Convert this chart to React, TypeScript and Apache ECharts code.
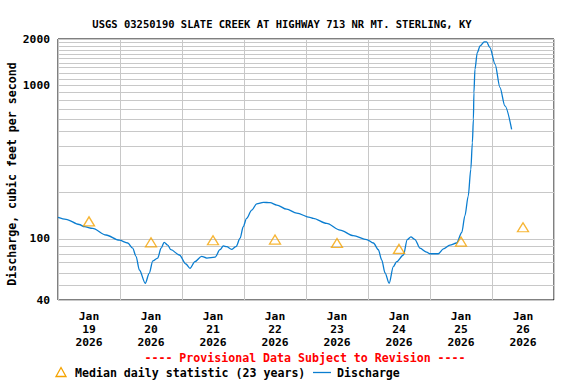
import React, { useEffect, useRef } from "react";
import * as echarts from "echarts";

const TITLE = "USGS 03250190 SLATE CREEK AT HIGHWAY 713 NR MT. STERLING, KY";
const Y_NAME = "Discharge, cubic feet per second";
const PROVISIONAL = "---- Provisional Data Subject to Revision ----";
const MEDIAN_LABEL = "Median daily statistic (23 years)";
const DISCHARGE_LABEL = "Discharge";

// x in hours since Jan 19 2026 00:00
const dayLabels = ["19", "20", "21", "22", "23", "24", "25", "26"];
const monthLabel = "Jan";
const yearLabel = "2026";

const yTickValues = [40, 100, 1000, 2000];
const yGridValues = [
  40, 50, 60, 70, 80, 90, 100, 200, 300, 400, 500, 600, 700, 800, 900, 1000,
  1100, 1200, 1300, 1400, 1500, 1600, 1700, 1800, 1900, 2000,
];

const dischargeHours = [
  0, 3.1, 8.2, 10.2, 13.4, 18.6, 23.7, 27.0, 28.9, 30.2, 31.5, 33.8, 35.3, 36.7,
  38.6, 39.9, 41.1, 42.5, 43.7, 47.0, 49.5, 51.1, 53.0, 55.6, 57.6, 60.8, 62.7,
  64.0, 65.3, 67.2, 68.9, 70.5, 71.7, 73.0, 75.0, 76.9, 79.5, 82.1, 84.7, 88.5,
  92.4, 97.5, 98.8, 104.0, 109.2, 114.3, 119.5, 122.1, 124.0, 125.3, 126.6,
  128.2, 129.8, 131.1, 133.7, 135.2, 136.6, 138.2, 140.1, 142.7, 144.0, 147.2,
  149.2, 151.7, 154.3, 156.3, 157.5, 158.8, 159.8, 160.4, 160.8, 161.0, 161.4,
  162.3, 163.4, 165.0, 165.9, 167.2, 169.2, 171.1, 173.0, 175.6,
];
const dischargeCfs = [
  138, 134, 124, 120, 117, 106, 98, 94, 87, 77, 62.7, 51.4, 59.7, 72, 75, 87, 95,
  91, 85, 78.5, 68.6, 64.3, 71, 77, 75, 76, 85, 90, 89, 85.5, 89, 101, 120, 136,
  154, 169, 173, 172, 166, 156, 147, 138, 136, 126, 114, 105, 99, 94, 85, 73, 60,
  51.4, 66, 71, 78.5, 99, 103, 99, 87, 82, 80, 80, 86, 91, 94, 110, 141, 190, 284,
  423, 600, 895, 1271, 1630, 1802, 1913, 1913, 1757, 1369, 964, 733, 517,
];

const medianHours = [12, 36, 60, 84, 108, 132, 156, 180];
const medianCfs = [130, 95, 98, 99, 94, 86, 96, 119];

const FONT = "'DejaVu Sans Mono', monospace";
const LINE_COLOR = "#0a7dd0";
const MEDIAN_COLOR = "#f5a300";

export default function App() {
  const ref = useRef<HTMLDivElement>(null);

  useEffect(() => {
    if (!ref.current) return;
    document.body.style.margin = "0";
    const chart = echarts.init(ref.current, undefined, { renderer: "svg" });
    const lg = (v: number) => Math.log10(v);
    const yMin = lg(40);
    const yMax = lg(2000);

    const option: any = {
      animation: false,
      backgroundColor: "#ffffff",
      title: {
        text: TITLE,
        left: 277,
        top: 13,
        textAlign: "center",
        textStyle: {
          fontFamily: FONT,
          fontWeight: "bold",
          fontSize: 10.5,
          color: "#000",
        },
      },
      grid: {
        left: 58,
        top: 39,
        right: 22,
        bottom: 84,
        show: true,
        borderColor: "#000",
        borderWidth: 1,
        backgroundColor: "transparent",
      },
      xAxis: {
        type: "value",
        min: 0,
        max: 192,
        axisLine: { show: false },
        axisTick: {
          show: false,
          customValues: [0, 24, 48, 72, 96, 120, 144, 168, 192],
        },
        splitLine: { show: true, lineStyle: { color: "#c8c8c8", width: 1 } },
        axisLabel: {
          customValues: medianHours,
          margin: 10,
          fontFamily: FONT,
          fontWeight: "bold",
          fontSize: 11.3,
          color: "#000",
          lineHeight: 13,
          formatter: (v: number) => {
            const i = Math.floor(v / 24);
            return `${monthLabel}\n${dayLabels[i]}\n${yearLabel}`;
          },
        },
      },
      yAxis: {
        type: "value",
        min: yMin,
        max: yMax,
        axisLine: { show: false },
        axisTick: { show: false, customValues: yGridValues.map(lg) },
        splitLine: { show: true, lineStyle: { color: "#c8c8c8", width: 1 } },
        axisLabel: {
          customValues: yTickValues.map(lg),
          margin: 8,
          fontFamily: FONT,
          fontWeight: "bold",
          fontSize: 11.3,
          color: "#000",
          formatter: (v: number) => String(Math.round(Math.pow(10, v))),
        },
      },
      series: [
        {
          name: DISCHARGE_LABEL,
          type: "line",
          data: dischargeHours.map((h, i) => [h, lg(dischargeCfs[i])]),
          showSymbol: false,
          smooth: 0.3,
          smoothMonotone: "x",
          lineStyle: { color: LINE_COLOR, width: 1.3 },
          z: 3,
        },
        {
          name: MEDIAN_LABEL,
          type: "scatter",
          data: medianHours.map((h, i) => [h, lg(medianCfs[i])]),
          symbol: "triangle",
          symbolSize: [11, 9],
          itemStyle: {
            color: "transparent",
            borderColor: MEDIAN_COLOR,
            borderWidth: 1.3,
          },
          z: 4,
        },
      ],
      graphic: [
        {
          type: "text",
          x: 12,
          y: 174,
          rotation: Math.PI / 2,
          style: {
            text: Y_NAME,
            fontFamily: FONT,
            fontWeight: "bold",
            fontSize: 11.6,
            fill: "#000",
            textAlign: "center",
            textVerticalAlign: "middle",
          },
        },
        {
          type: "text",
          x: 305,
          y: 358,
          style: {
            text: PROVISIONAL,
            fontFamily: FONT,
            fontWeight: "bold",
            fontSize: 11.6,
            fill: "#ff0000",
            textAlign: "center",
            textVerticalAlign: "middle",
          },
        },
        {
          type: "polygon",
          shape: {
            points: [
              [61, 367.5],
              [66, 376.5],
              [56, 376.5],
            ],
          },
          style: { fill: "none", stroke: MEDIAN_COLOR, lineWidth: 1.3 },
        },
        {
          type: "text",
          x: 75,
          y: 372.5,
          style: {
            text: MEDIAN_LABEL,
            fontFamily: FONT,
            fontWeight: "bold",
            fontSize: 11.6,
            fill: "#000",
            textAlign: "left",
            textVerticalAlign: "middle",
          },
        },
        {
          type: "line",
          shape: { x1: 313, y1: 372.5, x2: 331, y2: 372.5 },
          style: { stroke: LINE_COLOR, lineWidth: 1.3 },
        },
        {
          type: "text",
          x: 337,
          y: 372.5,
          style: {
            text: DISCHARGE_LABEL,
            fontFamily: FONT,
            fontWeight: "bold",
            fontSize: 11.6,
            fill: "#000",
            textAlign: "left",
            textVerticalAlign: "middle",
          },
        },
      ],
    };

    chart.setOption(option);
    return () => chart.dispose();
  }, []);

  return <div ref={ref} style={{ width: 576, height: 384 }} />;
}
